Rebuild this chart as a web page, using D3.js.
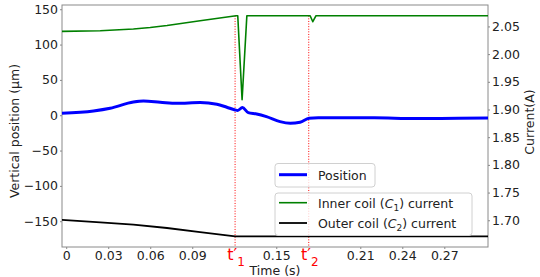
<!DOCTYPE html>
<html>
<head>
<meta charset="utf-8">
<script src="https://cdn.jsdelivr.net/npm/d3@7"></script>
<style>
  body { margin: 0; background: #fff; }
  text { font-family: "DejaVu Sans", sans-serif; }
</style>
</head>
<body>
<svg id="chart"></svg>
<script>
// Position (um) vs time (s)
const positionTime = [-0.003, 0.0195, 0.0314, 0.048, 0.0552, 0.0671, 0.079, 0.0956, 0.1076, 0.1147, 0.1206, 0.1225, 0.1258, 0.130, 0.136, 0.143, 0.1527, 0.160, 0.167, 0.1734, 0.180, 0.220, 0.250, 0.280, 0.3012];
const positionValues = [2.8, 6.1, 9.9, 18.6, 20.0, 18.4, 16.8, 17.9, 15.6, 11.3, 7.5, 6.8, 10.8, 3.7, 1.8, -2.0, -9.1, -11.3, -9.9, -4.3, -3.4, -3.6, -4.8, -4.2, -4.0];

// Inner coil (C1) current (A)
const innerTime = [-0.003, 0.0243, 0.048, 0.060, 0.072, 0.0956, 0.1213, 0.1225, 0.1256, 0.129, 0.1742, 0.1761, 0.1784, 0.3012];
const innerCurrent = [2.041, 2.0422, 2.0453, 2.0482, 2.0518, 2.0603, 2.0693, 2.0693, 1.9175, 2.0693, 2.0693, 2.0585, 2.0693, 2.0693];

// Outer coil (C2) current (A)
const outerTime = [-0.003, 0.0243, 0.048, 0.072, 0.0956, 0.1192, 0.1206, 0.3012];
const outerCurrent = [1.7008, 1.6963, 1.6920, 1.6860, 1.6784, 1.6715, 1.6710, 1.6710];

// event markers t'1, t'2
const eventTimes = [0.1206, 0.1732];
const eventSubs = ["1", "2"];
const eventTop = 2.0693;

const timeTicks = [0, 0.03, 0.06, 0.09, 0.15, 0.21, 0.24, 0.27];
const positionTicks = [-150, -100, -50, 0, 50, 100, 150];
const currentTicks = [1.70, 1.75, 1.80, 1.85, 1.90, 1.95, 2.00, 2.05];

const width = 540, height = 277;
const plotLeft = 62, plotRight = 488, plotTop = 5, plotBottom = 247;

const svg = d3.select("#chart").attr("width", width).attr("height", height);

const x = d3.scaleLinear().domain([-0.003, 0.3012]).range([plotLeft, plotRight]);
const yPos = d3.scaleLinear().domain([-186.5, 156]).range([plotBottom, plotTop]);
const yCur = d3.scaleLinear().domain([1.6517, 2.0887]).range([plotBottom, plotTop]);

// axes
const fmtTime = d => d === 0 ? "0" : d3.format(".2f")(d);

const xAxis = svg.append("g")
  .attr("transform", `translate(0,${plotBottom})`)
  .call(d3.axisBottom(x).tickValues(timeTicks).tickFormat(fmtTime).tickSize(2).tickPadding(2));

const yAxisL = svg.append("g")
  .attr("transform", `translate(${plotLeft},0)`)
  .call(d3.axisLeft(yPos).tickValues(positionTicks).tickSize(2).tickPadding(2));

const yAxisR = svg.append("g")
  .attr("transform", `translate(${plotRight},0)`)
  .call(d3.axisRight(yCur).tickValues(currentTicks).tickFormat(d3.format(".2f")).tickSize(2).tickPadding(2));

[xAxis, yAxisL, yAxisR].forEach(g => {
  g.select(".domain").remove();
  g.selectAll(".tick line").attr("stroke", "#888");
  g.selectAll(".tick text").attr("fill", "#222").style("font-size", "12.5px");
});

// frame
svg.append("rect")
  .attr("x", plotLeft).attr("y", plotTop)
  .attr("width", plotRight - plotLeft).attr("height", plotBottom - plotTop)
  .attr("fill", "none").attr("stroke", "#8a8a8a").attr("stroke-width", 1);

// event lines
svg.append("g").selectAll("line")
  .data(eventTimes)
  .enter().append("line")
  .attr("x1", d => x(d)).attr("x2", d => x(d))
  .attr("y1", yCur(eventTop)).attr("y2", plotBottom)
  .attr("stroke", "#ff0000").attr("stroke-width", 1)
  .attr("stroke-dasharray", "1,1.6");

// series
const curLine = d3.line().x(d => x(d[0])).y(d => yCur(d[1]));
const posLine = d3.line().x(d => x(d[0])).y(d => yPos(d[1])).curve(d3.curveMonotoneX);

svg.append("path")
  .datum(outerTime.map((t, i) => [t, outerCurrent[i]]))
  .attr("d", curLine)
  .attr("fill", "none").attr("stroke", "#000").attr("stroke-width", 1.8);

svg.append("path")
  .datum(innerTime.map((t, i) => [t, innerCurrent[i]]))
  .attr("d", curLine)
  .attr("fill", "none").attr("stroke", "#008000").attr("stroke-width", 1.6)
  .attr("stroke-linejoin", "round");

svg.append("path")
  .datum(positionTime.map((t, i) => [t, positionValues[i]]))
  .attr("d", posLine)
  .attr("fill", "none").attr("stroke", "#0000ff").attr("stroke-width", 3)
  .attr("stroke-linejoin", "round");

// event labels t'1, t'2
eventTimes.forEach((t, i) => {
  const lab = svg.append("text")
    .attr("x", x(t) + 1).attr("y", 260)
    .attr("text-anchor", "middle")
    .attr("fill", "#ff0000")
    .style("font-size", "16px");
  lab.append("tspan").text("t\u2032");
  lab.append("tspan").attr("dy", 6).style("font-size", "12px").text(eventSubs[i]);
});

// axis titles
svg.append("text")
  .attr("x", (plotLeft + plotRight) / 2).attr("y", 275)
  .attr("text-anchor", "middle").attr("fill", "#222")
  .style("font-size", "12.5px")
  .text("Time (s)");

svg.append("text")
  .attr("transform", "translate(19,131) rotate(-90)")
  .attr("text-anchor", "middle").attr("fill", "#222")
  .style("font-size", "12.5px")
  .text("Vertical position (\u03bcm)");

svg.append("text")
  .attr("transform", "translate(534,122) rotate(-90)")
  .attr("text-anchor", "middle").attr("fill", "#222")
  .style("font-size", "12.5px")
  .text("Current(A)");

// legends
function legendBox(bx, by, bw, bh) {
  svg.append("rect")
    .attr("x", bx).attr("y", by).attr("width", bw).attr("height", bh)
    .attr("rx", 3).attr("ry", 3)
    .attr("fill", "#fff").attr("fill-opacity", 0.8)
    .attr("stroke", "#d0d0d0").attr("stroke-width", 1);
}

function legendEntry(ly, color, lw, parts) {
  svg.append("line")
    .attr("x1", 279).attr("x2", 307).attr("y1", ly).attr("y2", ly)
    .attr("stroke", color).attr("stroke-width", lw);
  const t = svg.append("text")
    .attr("x", 318).attr("y", ly + 5)
    .attr("fill", "#222").style("font-size", "12.5px");
  parts.forEach(p => {
    const s = t.append("tspan").text(p.text);
    if (p.italic) s.style("font-style", "italic");
    if (p.sub) s.style("font-size", "9px").attr("dy", 3);
    if (p.up) s.attr("dy", -3);
  });
}

legendBox(275, 163.5, 100, 23.5);
legendEntry(174.7, "#0000ff", 3, [{ text: "Position" }]);

legendBox(275, 193, 197, 42.5);
legendEntry(202.7, "#008000", 1.6, [
  { text: "Inner coil (" }, { text: "C", italic: true }, { text: "1", sub: true }, { text: ") current", up: true }
]);
legendEntry(223, "#000", 1.8, [
  { text: "Outer coil (" }, { text: "C", italic: true }, { text: "2", sub: true }, { text: ") current", up: true }
]);
</script>
</body>
</html>
